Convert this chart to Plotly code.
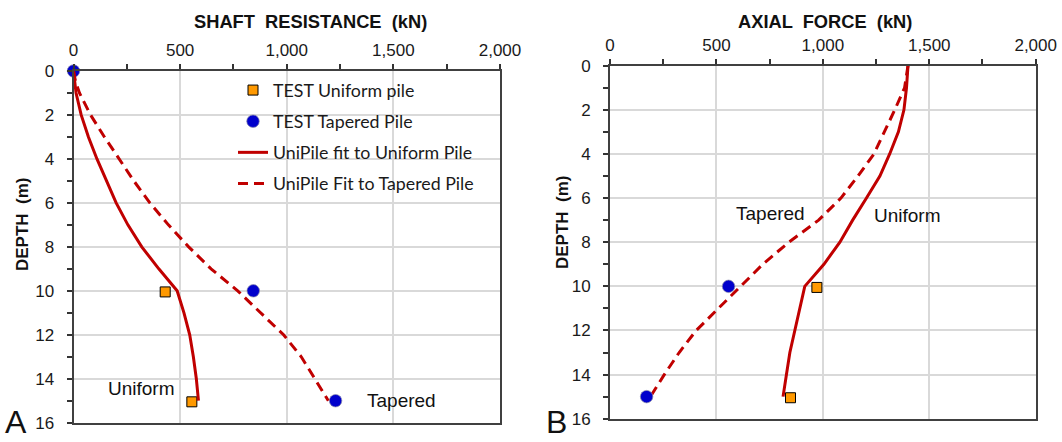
import plotly.graph_objects as go

# ---------------- data ----------------
# Panel A: shaft resistance (kN) vs depth (m)
test_uniform_depth = [10.05, 15.05]
test_uniform_shaft = [430, 555]
test_tapered_depth = [0, 10.0, 15.0]
test_tapered_shaft = [0, 843, 1229]

fit_uniform_depth = [0, 0.5, 1, 2, 3, 4, 5, 6, 7, 8, 9, 10, 11, 12, 13, 14, 15]
fit_uniform_shaft = [0, 5, 12, 36, 70, 110, 155, 200, 255, 320, 400, 486, 518, 545, 562, 576, 586]
fit_tapered_depth = [0, 0.5, 1, 2, 3, 4, 5, 6, 7, 8, 9, 10, 11, 12, 13, 14, 15]
fit_tapered_shaft = [0, 10, 28, 80, 145, 212, 283, 358, 445, 540, 645, 770, 878, 985, 1068, 1132, 1195]

# Panel B: axial force (kN) vs depth (m)
test_uniform_axial_depth = [10.05, 15.05]
test_uniform_axial = [972, 848]
test_tapered_axial_depth = [10.0, 15.0]
test_tapered_axial = [557, 172]

fit_uniform_axial_depth = [0, 1, 2, 3, 4, 5, 6, 7, 8, 9, 10, 11, 12, 13, 14, 15]
fit_uniform_axial = [1400, 1393, 1381, 1355, 1314, 1268, 1205, 1140, 1080, 1005, 915, 892, 868, 845, 829, 813]
fit_tapered_axial_depth = [0, 1, 2, 3, 4, 5, 6, 7, 8, 9, 10, 11, 12, 13, 14, 15]
fit_tapered_axial = [1400, 1384, 1338, 1290, 1240, 1165, 1085, 980, 840, 718, 612, 510, 405, 325, 255, 190]

x_ticks = [0, 500, 1000, 1500, 2000]
y_ticks = [0, 2, 4, 6, 8, 10, 12, 14, 16]

# ---------------- style ----------------
W, H = 1062, 442
RED = "#c00000"
ORANGE = "#ff9900"
BLUE = "#0000cc"
FONT = "Liberation Sans"

def px_x(p):
    return p / W

def px_y(p):
    return 1 - p / H

fig = go.Figure()

sq = dict(symbol="square", size=10, color=ORANGE, line=dict(color="black", width=1))
ci = dict(symbol="circle", size=12.5, color=BLUE, line=dict(color="rgba(140,140,170,0.7)", width=1))

# Panel A traces
fig.add_trace(go.Scatter(x=test_uniform_shaft, y=test_uniform_depth, mode="markers", marker=sq,
                         name="TEST Uniform pile", legendgroup="a", xaxis="x", yaxis="y", cliponaxis=False))
fig.add_trace(go.Scatter(x=test_tapered_shaft, y=test_tapered_depth, mode="markers", marker=ci,
                         name="TEST Tapered Pile", legendgroup="b", xaxis="x", yaxis="y", cliponaxis=False))
fig.add_trace(go.Scatter(x=fit_uniform_shaft, y=fit_uniform_depth, mode="lines",
                         line=dict(color=RED, width=3), name="UniPile fit to Uniform Pile",
                         legendgroup="c", xaxis="x", yaxis="y"))
fig.add_trace(go.Scatter(x=fit_tapered_shaft, y=fit_tapered_depth, mode="lines",
                         line=dict(color=RED, width=3, dash="10px,6px"), name="UniPile Fit to Tapered Pile",
                         legendgroup="d", xaxis="x", yaxis="y"))

# Panel B traces
fig.add_trace(go.Scatter(x=fit_uniform_axial, y=fit_uniform_axial_depth, mode="lines",
                         line=dict(color=RED, width=3), showlegend=False, xaxis="x2", yaxis="y2"))
fig.add_trace(go.Scatter(x=fit_tapered_axial, y=fit_tapered_axial_depth, mode="lines",
                         line=dict(color=RED, width=3, dash="10px,6px"), showlegend=False, xaxis="x2", yaxis="y2"))
fig.add_trace(go.Scatter(x=test_uniform_axial, y=test_uniform_axial_depth, mode="markers", marker=sq,
                         showlegend=False, xaxis="x2", yaxis="y2", cliponaxis=False))
fig.add_trace(go.Scatter(x=test_tapered_axial, y=test_tapered_axial_depth, mode="markers", marker=ci,
                         showlegend=False, xaxis="x2", yaxis="y2", cliponaxis=False))

tickfont = dict(family=FONT, size=17, color="#1a1a1a")
common_x = dict(range=[0, 2000], side="top", tickvals=x_ticks, tickformat=",d", ticks="outside",
                ticklen=5, tickwidth=1.5, tickcolor="#333", tickfont=tickfont, ticklabelstandoff=1,
                minor=dict(dtick=250, ticks="outside", ticklen=5, tickwidth=1.5, tickcolor="#333", showgrid=False),
                showgrid=True, gridcolor="#d9d9d9", gridwidth=1.5, showline=True, linecolor="#404040",
                linewidth=1.8, mirror=True, zeroline=False, fixedrange=True, automargin=False)
common_y = dict(range=[16, 0], tickvals=y_ticks, ticks="outside", ticklen=5, tickwidth=1.5,
                tickcolor="#333", tickfont=tickfont, ticklabelstandoff=9,
                minor=dict(dtick=1, ticks="outside", ticklen=5, tickwidth=1.5, tickcolor="#333", showgrid=False),
                showgrid=True, gridcolor="#d9d9d9", gridwidth=1.5, showline=True, linecolor="#404040",
                linewidth=1.8, mirror=True, zeroline=False, fixedrange=True, automargin=False)

fig.update_layout(
    width=W, height=H, margin=dict(l=0, r=0, t=0, b=0, autoexpand=False),
    paper_bgcolor="white", plot_bgcolor="white",
    xaxis=dict(domain=[px_x(73.5), px_x(500)], anchor="y", **common_x),
    yaxis=dict(domain=[px_y(422.7), px_y(71)], anchor="x", **common_y),
    xaxis2=dict(domain=[px_x(610), px_x(1035.7)], anchor="y2", **common_x),
    yaxis2=dict(domain=[px_y(418.7), px_y(65.7)], anchor="x2", **common_y),
    showlegend=True,
    legend=dict(x=px_x(233), y=px_y(72), xanchor="left", yanchor="top",
                bgcolor="rgba(0,0,0,0)", traceorder="grouped", tracegroupgap=5,
                font=dict(family="Lato", size=17.8, color="#1a1a1a")),
)

ann = []
title_font = dict(family=FONT, size=18.3, color="#111")
ann.append(dict(text="<b>SHAFT  RESISTANCE  (kN)</b>", x=px_x(310), y=px_y(21), xref="paper", yref="paper",
                showarrow=False, font=title_font, xanchor="center", yanchor="middle"))
ann.append(dict(text="<b>AXIAL  FORCE  (kN)</b>", x=px_x(825), y=px_y(21), xref="paper", yref="paper",
                showarrow=False, font=title_font, xanchor="center", yanchor="middle"))
ann.append(dict(text="<b>DEPTH  (m)</b>", x=px_x(22), y=px_y(224), xref="paper", yref="paper",
                showarrow=False, textangle=-90, font=dict(family=FONT, size=17, color="#111"),
                xanchor="center", yanchor="middle"))
ann.append(dict(text="<b>DEPTH  (m)</b>", x=px_x(562), y=px_y(222), xref="paper", yref="paper",
                showarrow=False, textangle=-90, font=dict(family=FONT, size=17, color="#111"),
                xanchor="center", yanchor="middle"))
ann.append(dict(text="A", x=px_x(16), y=0, xref="paper", yref="paper", showarrow=False,
                font=dict(family=FONT, size=32, color="#111"), xanchor="center", yanchor="bottom"))
ann.append(dict(text="B", x=px_x(556), y=0, xref="paper", yref="paper", showarrow=False,
                font=dict(family=FONT, size=32, color="#111"), xanchor="center", yanchor="bottom"))
lab_font = dict(family=FONT, size=19, color="#111")
ann.append(dict(text="Uniform", x=321, y=14.45, xref="x", yref="y", showarrow=False, font=lab_font))
ann.append(dict(text="Tapered", x=1540, y=14.97, xref="x", yref="y", showarrow=False, font=lab_font))
ann.append(dict(text="Tapered", x=752, y=6.72, xref="x2", yref="y2", showarrow=False, font=lab_font))
ann.append(dict(text="Uniform", x=1400, y=6.81, xref="x2", yref="y2", showarrow=False, font=lab_font))
fig.update_layout(annotations=ann)

fig.write_html("out.html",
               post_script="document.body.style.margin='0px';document.body.style.padding='0px';")
